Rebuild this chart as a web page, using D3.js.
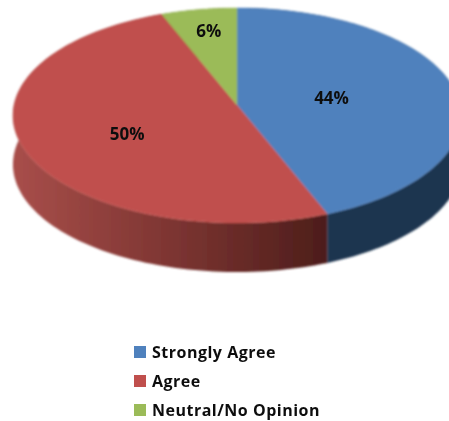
<!DOCTYPE html>
<html><head><meta charset="utf-8">
<script src="https://cdn.jsdelivr.net/npm/d3@7"></script>
<style>html,body{margin:0;background:#fff;overflow:hidden}svg{display:block}</style>
</head><body><script>
const categories = ["Strongly Agree", "Agree", "Neutral/No Opinion"];
const values = [44, 50, 6];
const topColors = ["#4f81bd", "#c0504d", "#9bbb59"];
const W = 449, H = 421;
// Projection of the pie's unit circle into the tilted view
const apex = {x: 237, y: 105}, fx = 223, fy = 106.5, persp = 0.0975, depth = 49;
const project = (a, r = 1) => {
  const u = r * Math.sin(a), v = r * Math.cos(a), d = 1 + persp * v;
  return [apex.x + fx * u / d, apex.y - fy * v / d];
};
const labelRadius = [0.435, 0.52, 0.72], labelDy = [1, 8, -4];

const svg = d3.select("body").append("svg").attr("width", W).attr("height", H);
const defs = svg.append("defs");
defs.append("filter").attr("id", "soft").attr("x", "-5%").attr("y", "-5%").attr("width", "110%").attr("height", "110%")
  .append("feGaussianBlur").attr("stdDeviation", 0.8);
defs.append("filter").attr("id", "softText").attr("x", "-10%").attr("y", "-20%").attr("width", "120%").attr("height", "140%")
  .append("feGaussianBlur").attr("stdDeviation", 0.6);
const grad = defs.append("linearGradient").attr("id", "redSide").attr("gradientUnits", "userSpaceOnUse")
  .attr("x1", 14).attr("x2", 329).attr("y1", 0).attr("y2", 0);
grad.append("stop").attr("offset", 0).attr("stop-color", "#a84e4a");
grad.append("stop").attr("offset", 0.5).attr("stop-color", "#7d3532");
grad.append("stop").attr("offset", 1).attr("stop-color", "#4c1d1a");
const sideFill = ["#1f3550", "url(#redSide)", "#5d7035"];

const arcs = d3.pie().sort(null)(values);
const rim = d => d3.range(0, 121).map(i => d.startAngle + (d.endAngle - d.startAngle) * i / 120).map(a => project(a));
const line = d3.line();
const pie = svg.append("g").attr("filter", "url(#soft)");

pie.selectAll("path.side").data(arcs).join("path").attr("class", "side")
  .attr("fill", (d, i) => sideFill[i])
  .attr("d", d => {
    const pts = rim(d);
    return line(pts.concat(pts.slice().reverse().map(p => [p[0], p[1] + depth]))) + "Z";
  });
pie.selectAll("path.top").data(arcs).join("path").attr("class", "top")
  .attr("fill", (d, i) => topColors[i])
  .attr("stroke", (d, i) => topColors[i]).attr("stroke-width", 0.4)
  .attr("d", d => line([[apex.x, apex.y]].concat(rim(d))) + "Z");

svg.append("g").attr("filter", "url(#softText)").selectAll("text").data(arcs).join("text")
  .attr("x", (d, i) => project((d.startAngle + d.endAngle) / 2, labelRadius[i])[0])
  .attr("y", (d, i) => project((d.startAngle + d.endAngle) / 2, labelRadius[i])[1] + labelDy[i])
  .attr("text-anchor", "middle").attr("dominant-baseline", "central")
  .attr("font-family", "Open Sans").attr("font-size", 17).attr("font-weight", 700).attr("fill", "#111")
  .text(d => d.value + "%");

const legendY = d3.scalePoint().domain(categories).range([352, 410]);
const legend = svg.append("g").selectAll("g").data(categories).join("g")
  .attr("transform", d => `translate(134,${legendY(d)})`);
legend.append("rect").attr("x", 0).attr("y", -6).attr("width", 12).attr("height", 12)
  .attr("fill", (d, i) => topColors[i]).attr("filter", "url(#softText)");
legend.append("text").attr("x", 18).attr("y", 0).attr("dominant-baseline", "central")
  .attr("font-family", "Open Sans").attr("font-size", 16).attr("font-weight", 700).attr("fill", "#111")
  .attr("letter-spacing", 0.5)
  .attr("filter", "url(#softText)").text(d => d);
</script></body></html>
